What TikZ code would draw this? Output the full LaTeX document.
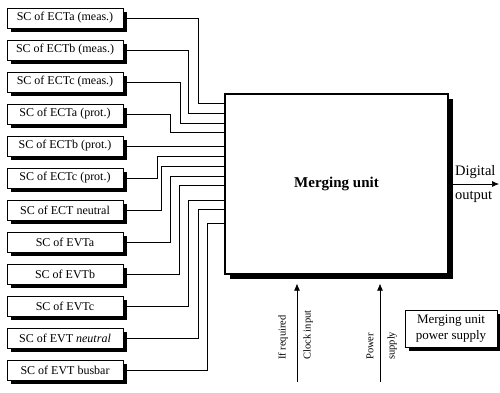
\documentclass[tikz,border=0pt]{standalone}
\usepackage{fontspec}
\setmainfont{Liberation Serif}
\usepackage{tikz}
\usetikzlibrary{positioning, arrows.meta}

\tikzset{
  scbox/.style={draw, line width=0.8pt, fill=white, minimum width=116pt, minimum height=20pt,
    inner sep=1pt, font=\fontsize{12}{13}\selectfont},
  shade box/.style={fill=black, line width=0pt},
  wire/.style={line width=0.7pt},
  vlabel/.style={rotate=90, anchor=west, inner sep=0pt, font=\fontsize{10.5}{12}\selectfont},
}

\begin{document}
\begin{tikzpicture}[x=1pt,y=-1pt]
\useasboundingbox (0,0) rectangle (500,392);
% shadows first
\foreach \y in {18,50,82,114,146,178,210,242,274,306,338,370}
  \fill[shade box] (11,\y-6) rectangle (127,\y+14);
\fill[shade box] (229.5,98.5) rectangle (452.5,278.5);
\fill[shade box] (409,314) rectangle (501,351);
% sensor channels
\node[scbox] (ectam) at (65,18) {SC of ECTa (meas.)};
\node[scbox] (ectbm) at (65,50) {SC of ECTb (meas.)};
\node[scbox] (ectcm) at (65,82) {SC of ECTc (meas.)};
\node[scbox] (ectap) at (65,114) {SC of ECTa (prot.)};
\node[scbox] (ectbp) at (65,146) {SC of ECTb (prot.)};
\node[scbox] (ectcp) at (65,178) {SC of ECTc (prot.)};
\node[scbox] (ectn) at (65,210) {SC of ECT neutral};
\node[scbox] (evta) at (65,242) {SC of EVTa};
\node[scbox] (evtb) at (65,274) {SC of EVTb};
\node[scbox] (evtc) at (65,306) {SC of EVTc};
\node[scbox] (evtn) at (65,338) {SC of EVT \textit{neutral}};
\node[scbox] (evtbb) at (65,370) {SC of EVT busbar};
% merging unit
\node[draw, line width=1.2pt, fill=white, minimum width=223pt, minimum height=180pt,
  font=\fontsize{15}{16}\selectfont\bfseries] (mu) at (336.5,184) {Merging unit};
\node[scbox, minimum width=92pt, minimum height=37pt, align=center,
  font=\fontsize{13}{16}\selectfont] (mups) at (451,328.5) {Merging unit\\power supply};
% channels into the merging unit
\draw[wire] ([xshift=4pt]ectam.east) -| (198,103) -- (mu.west |- 198,103);
\draw[wire] ([xshift=4pt]ectbm.east) -| (188,113) -- (mu.west |- 188,113);
\draw[wire] ([xshift=4pt]ectcm.east) -| (180,123) -- (mu.west |- 180,123);
\draw[wire] ([xshift=4pt]ectap.east) -| (170,132) -- (mu.west |- 170,132);
\draw[wire] ([xshift=4pt]ectbp.east) -- (mu.west |- ectbp.east);
\draw[wire] ([xshift=4pt]ectcp.east) -| (157,156) -- (mu.west |- 157,156);
\draw[wire] ([xshift=4pt]ectn.east) -| (161,166) -- (mu.west |- 161,166);
\draw[wire] ([xshift=4pt]evta.east) -| (170,176) -- (mu.west |- 170,176);
\draw[wire] ([xshift=4pt]evtb.east) -| (179,185) -- (mu.west |- 179,185);
\draw[wire] ([xshift=4pt]evtc.east) -| (188,200) -- (mu.west |- 188,200);
\draw[wire] ([xshift=4pt]evtn.east) -| (198,209) -- (mu.west |- 198,209);
\draw[wire] ([xshift=4pt]evtbb.east) -| (207,223) -- (mu.west |- 207,223);
% digital output
\coordinate (dout) at (499,184);
\draw[wire, -{Latex[length=7pt,width=6pt]}] ([xshift=4.5pt]mu.east) -- (dout);
\node[anchor=west, inner sep=0pt, font=\fontsize{14.5}{15}\selectfont] (dig) at (455,172) {Digital};
\node[anchor=west, inner sep=0pt, font=\fontsize{14.5}{15}\selectfont] (outp) at (455,197) {output};
% clock and supply inputs
\coordinate (clk) at (297,382);
\coordinate (pwr) at (380,382);
\draw[wire, -{Latex[length=7pt,width=6pt]}] (clk) -- ([yshift=-9pt]clk |- mu.south);
\draw[wire, -{Latex[length=7pt,width=6pt]}] (pwr) -- ([yshift=-9pt]pwr |- mu.south);
\node[vlabel] (ifreq) at (283,360) {If required};
\node[vlabel] (clkin) at (308,360) {Clock input};
\node[vlabel] (powlab) at (370,360) {Power};
\node[vlabel] (suplab) at (392,360) {supply};
\end{tikzpicture}
\end{document}
